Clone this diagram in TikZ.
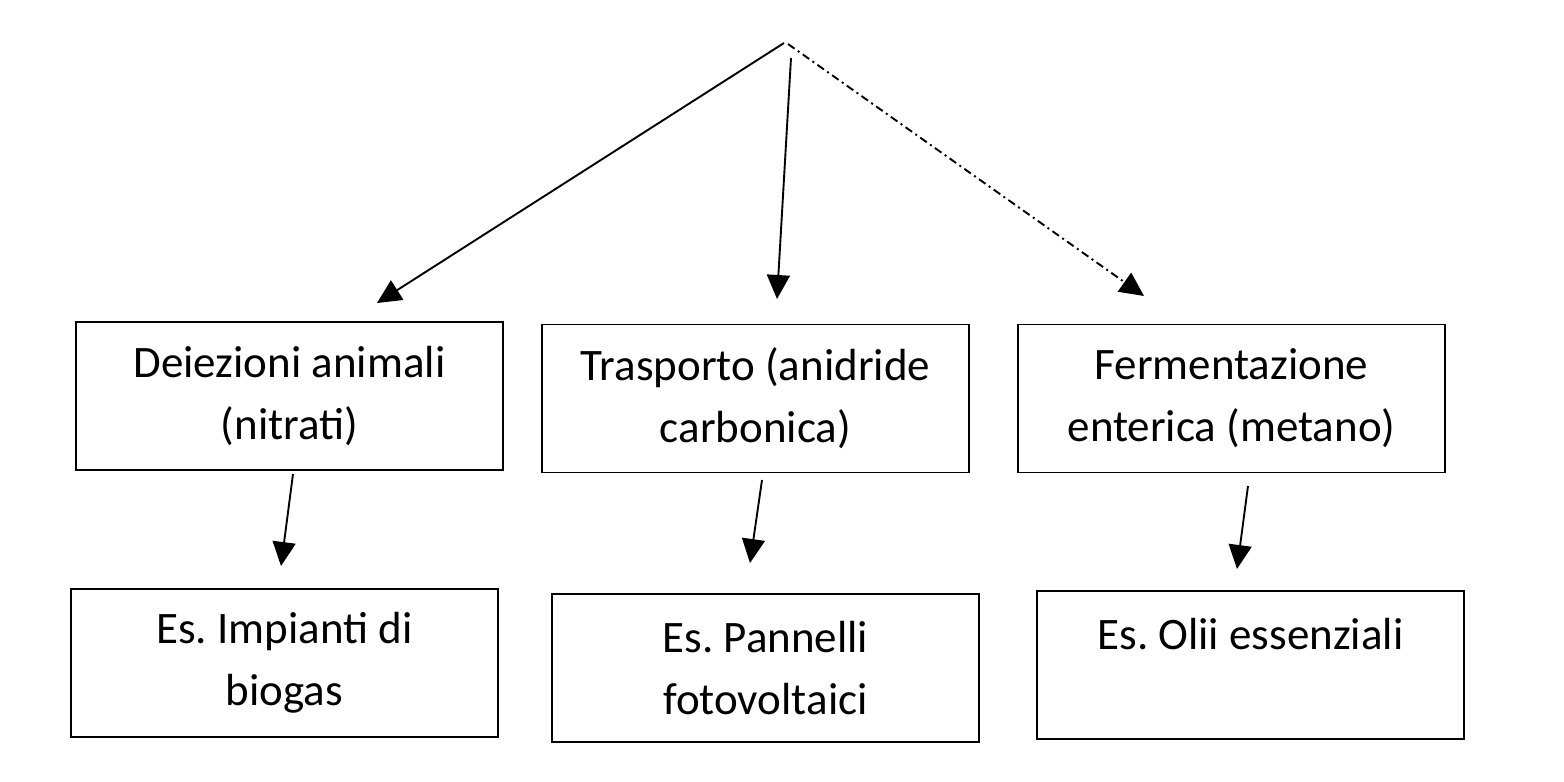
\documentclass[tikz,border=0pt]{standalone}
\usepackage{fontspec}
\setmainfont{Carlito}
\usetikzlibrary{arrows.meta}
\frenchspacing
\begin{document}
\begin{tikzpicture}[x=0.5pt,y=-0.5pt,
  box/.style={draw=black,line width=0.8pt,minimum width=213.5pt,minimum height=74pt,
    inner sep=0pt,align=center,font=\fontsize{22.5}{31}\selectfont},
  conn/.style={line width=0.95pt,-{Triangle[length=12pt,width=11.5pt]}},
  dashdot/.style={dash pattern=on 4pt off 2pt on 1pt off 2pt}]
\useasboundingbox (0,0) rectangle (1564,782);
\node[box] (b1) at (289.5,396) {Deiezioni animali\\(nitrati)};
\node[box] (b2) at (755.5,398.5) {Trasporto (anidride\\carbonica)};
\node[box] (b3) at (1231.5,398.5) {Fermentazione\\enterica (metano)};
\node[box] (b4) at (284.5,663) {Es. Impianti di\\biogas};
\node[box] (b5) at (765.5,668) {Es. Pannelli\\fotovoltaici};
\node[box] (b6) at (1250.5,665) {Es. Olii essenziali\\\mbox{}};
\coordinate (s1) at (784,43);
\coordinate (t1) at (377,303);
\coordinate (s2) at (791,58);
\coordinate (t2) at (777,299);
\coordinate (s3) at (788,44);
\coordinate (t3) at (1144,296);
\coordinate (s4) at (293,474);
\coordinate (t4) at (281,566);
\coordinate (s5) at (762,480);
\coordinate (t5) at (750,563);
\coordinate (s6) at (1248,486);
\coordinate (t6) at (1237,569);
\draw[conn] (s1) -- (t1);
\draw[conn] (s2) -- (t2);
\draw[conn,dashdot] (s3) -- (t3);
\draw[conn] (s4) -- (t4);
\draw[conn] (s5) -- (t5);
\draw[conn] (s6) -- (t6);
\end{tikzpicture}
\end{document}
